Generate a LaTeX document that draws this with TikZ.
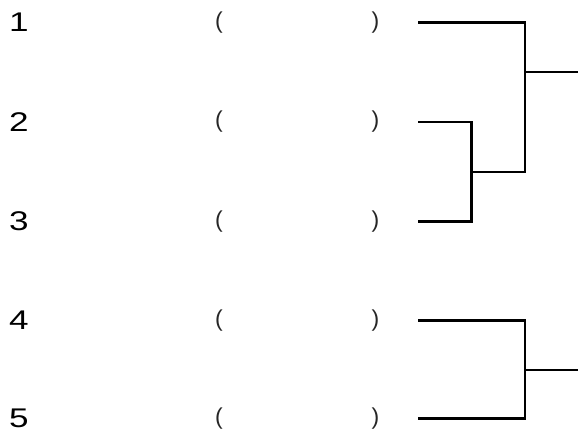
\documentclass[tikz,border=0pt]{standalone}
\usepackage{fontspec}
\setmainfont{Liberation Sans}
\newfontfamily\numfont[FakeStretch=1.3]{Liberation Sans}
\usetikzlibrary{positioning}

\begin{document}
\begin{tikzpicture}[x=1pt,y=-1pt,
 num/.style={anchor=west,inner sep=0pt,font=\numfont\fontsize{27}{27}\selectfont},
 paren/.style={inner sep=0pt,text=black!85,font=\fontsize{23}{23}\selectfont},
 bracket/.style={line width=2.7pt,line join=miter}]
\useasboundingbox (0,0) rectangle (578,432);
\node[num] (n1) at (9,22.5) {1};
\node[num] (n2) at (9,122) {2};
\node[num] (n3) at (9,221.5) {3};
\node[num] (n4) at (9,320.5) {4};
\node[num] (n5) at (9,418.5) {5};
\node[paren] (l1) at (219,22.5) {(};
\node[paren] (r1) at (375.5,22.5) {)};
\node[paren] (l2) at (219,122) {(};
\node[paren] (r2) at (375.5,122) {)};
\node[paren] (l3) at (219,221.5) {(};
\node[paren] (r3) at (375.5,221.5) {)};
\node[paren] (l4) at (219,320.5) {(};
\node[paren] (r4) at (375.5,320.5) {)};
\node[paren] (l5) at (219,418.5) {(};
\node[paren] (r5) at (375.5,418.5) {)};
\coordinate (e1) at (418,22.5);
\coordinate (e2) at (418,122);
\coordinate (e3) at (418,221.5);
\coordinate (e4) at (418,320.5);
\coordinate (e5) at (418,418.5);
\coordinate (j23) at (471.5,172);
\coordinate (c1) at (525,72);
\coordinate (o1) at (578,72);
\coordinate (c2) at (525,370);
\coordinate (o2) at (578,370);
\draw[bracket] (e2) -| (j23) |- (e3);
\draw[bracket] (e1) -| (c1) |- (j23);
\draw[bracket] (c1)--(o1);
\draw[bracket] (e4) -| (c2) |- (e5);
\draw[bracket] (c2)--(o2);
\end{tikzpicture}
\end{document}
